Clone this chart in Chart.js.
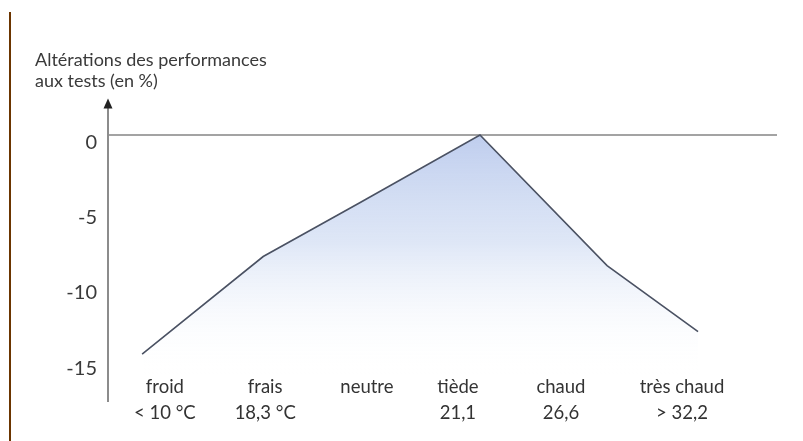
<!DOCTYPE html>
<html>
<head>
<meta charset="utf-8">
<script src="https://cdn.jsdelivr.net/npm/chart.js@4"></script>
<style>
  html, body { margin: 0; padding: 0; background: #fff; }
  #wrap { width: 803px; height: 441px; }
</style>
</head>
<body>
<div id="wrap"><canvas id="perfChart" width="803" height="441"></canvas></div>
<script>
// categories (two lines each) and where their labels sit on the x axis
const categories = [
  ["froid", "< 10 °C"],
  ["frais", "18,3 °C"],
  ["neutre", ""],
  ["tiède", "21,1"],
  ["chaud", "26,6"],
  ["très chaud", "> 32,2"]
];
const categoryPos = [0.85, 2.35, 3.87, 5.23, 6.77, 8.58];

// the curve
const curveX = [0.51, 2.32, 3.77, 5.56, 7.46, 8.82];
const perfValues = [-14.6, -8.1, -4.5, 0, -8.7, -13.1];

const yTicks = [0, -5, -10, -15];
const titleLines = ["Altérations des performances", "aux tests (en %)"];

const points = curveX.map((x, i) => ({ x: x, y: perfValues[i] }));

// brown margin line, axis extension and arrow head
const decorations = {
  id: "decorations",
  afterDraw(chart) {
    const ctx = chart.ctx;
    const area = chart.chartArea;
    ctx.save();
    ctx.strokeStyle = "#6b3500";
    ctx.lineWidth = 2;
    ctx.beginPath();
    ctx.moveTo(10, 12);
    ctx.lineTo(10, 441);
    ctx.stroke();

    ctx.strokeStyle = "#8c8c8c";
    ctx.lineWidth = 2;
    ctx.beginPath();
    ctx.moveTo(area.left, area.top + 8);
    ctx.lineTo(area.left, area.bottom + 28);
    ctx.stroke();

    ctx.fillStyle = "#222";
    ctx.beginPath();
    ctx.moveTo(area.left, area.top + 1);
    ctx.lineTo(area.left - 4.5, area.top + 11);
    ctx.lineTo(area.left + 4.5, area.top + 11);
    ctx.closePath();
    ctx.fill();
    ctx.restore();
  }
};

const ctx = document.getElementById("perfChart").getContext("2d");

new Chart(ctx, {
  type: "line",
  data: {
    datasets: [{
      data: points,
      borderColor: "#4b5263",
      borderWidth: 1.6,
      pointRadius: 0,
      tension: 0,
      fill: "start",
      backgroundColor: function (c) {
        const area = c.chart.chartArea;
        if (!area) return "rgba(190,205,238,0.6)";
        const top = c.chart.scales.y.getPixelForValue(0);
        const g = c.chart.ctx.createLinearGradient(0, top, 0, area.bottom);
        g.addColorStop(0, "rgba(184,200,236,0.9)");
        g.addColorStop(0.45, "rgba(205,218,242,0.65)");
        g.addColorStop(1, "rgba(255,255,255,0)");
        return g;
      }
    }]
  },
  options: {
    responsive: false,
    animation: false,
    layout: { padding: { left: 35, right: 26, top: 0, bottom: 15 } },
    plugins: {
      legend: { display: false },
      tooltip: { enabled: false },
      title: {
        display: true,
        text: titleLines,
        align: "start",
        color: "#3a3a3a",
        font: { family: "Lato", size: 18, weight: "normal", lineHeight: 21 / 18 },
        padding: { top: 49.5, bottom: 6 }
      }
    },
    scales: {
      x: {
        type: "linear",
        min: 0,
        max: 10,
        grid: { display: false, drawTicks: false },
        border: { display: false },
        afterBuildTicks: function (scale) {
          scale.ticks = categoryPos.map(v => ({ value: v }));
        },
        ticks: {
          padding: 0,
          color: "#333",
          font: { family: "Lato", size: 18.5, lineHeight: 26 / 18.5 },
          callback: function (value, index) { return categories[index]; }
        }
      },
      y: {
        min: -15.93,
        max: 2.5,
        afterFit: function (scale) { scale.width = 73; },
        afterBuildTicks: function (scale) {
          scale.ticks = yTicks.map(v => ({ value: v }));
        },
        grid: {
          drawTicks: false,
          lineWidth: 2,
          color: function (c) { return c.tick && c.tick.value === 0 ? "#a3a3a3" : "rgba(0,0,0,0)"; }
        },
        border: { display: false },
        ticks: {
          padding: 11,
          labelOffset: 8,
          color: "#3a3a3a",
          font: { family: "Lato", size: 20 }
        }
      }
    }
  },
  plugins: [decorations]
});
</script>
</body>
</html>
